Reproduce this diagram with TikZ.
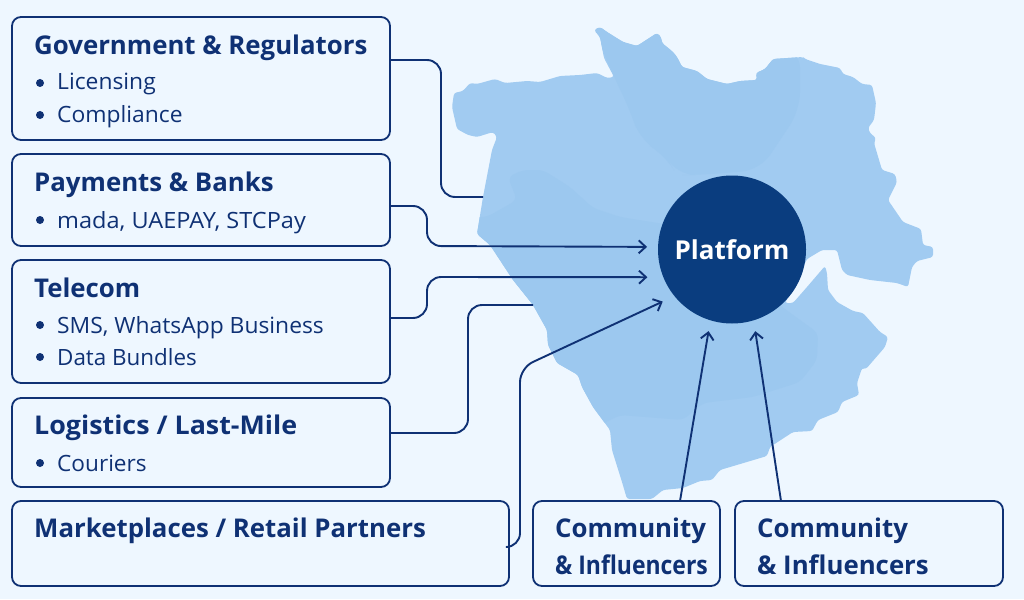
\documentclass[tikz,border=0pt]{standalone}
\usepackage{fontspec}
\setmainfont{Open Sans}
\usetikzlibrary{arrows.meta}
\definecolor{pagebg}{HTML}{EEF7FF}
\definecolor{maplight}{HTML}{A1CBF1}
\definecolor{mapdark}{HTML}{9CC8EF}
\definecolor{navy}{HTML}{0F3174}
\definecolor{platformblue}{HTML}{0A3D7F}
\tikzset{
  card/.style={draw=navy,line width=1.8pt,rounded corners=9pt,fill=pagebg,anchor=north west,inner sep=0pt,outer sep=0pt},
  heading/.style={anchor=base west,inner sep=0pt,text=navy,font=\fontsize{25.8}{26}\selectfont\bfseries},
  entry/.style={anchor=base west,inner sep=0pt,text=navy,font=\fontsize{22.4}{23}\selectfont},
  dot/.style={circle,fill=navy,minimum size=8pt,inner sep=0pt},
  link/.style={draw=navy,line width=1.9pt,rounded corners=14pt},
  linkarrow/.style={link,-{Straight Barb[length=7pt,width=13pt,line width=1.9pt]}},
}
\newcommand{\maplines}{(594,30) -- (600,27) -- (607,32) -- (623,42) -- (637,46) -- (657,33) -- (661,37) -- (662,43) -- (673,52) -- (677,57) -- (682,67) -- (697,71) -- (707,79) -- (727,84) -- (740,81) -- (757,80) -- (756,73) -- (765,69) -- (773,59) -- (788,58) -- (803,57) -- (805,59) -- (820,64) -- (840,68) -- (843,74) -- (853,77) -- (862,84) -- (872,85) -- (876,103) -- (874,120) -- (868,128) -- (870,133) -- (876,138) -- (874,143) -- (882,170) -- (895,174) -- (897,182) -- (888,200) -- (903,222) -- (921,229) -- (923,245) -- (933,247) -- (933,257) -- (917,261) -- (912,267) -- (908,287) -- (897,283) -- (870,280) -- (847,275) -- (842,270) -- (837,250) -- (822,250) -- (807,259) -- (785,303) -- (793,303) -- (807,287) -- (825,266) -- (827,273) -- (828,290) -- (837,302) -- (853,311) -- (863,313) -- (880,332) -- (888,337) -- (885,347) -- (872,362) -- (866,369) -- (862,368) -- (857,383) -- (859,395) -- (842,402) -- (838,412) -- (818,420) -- (812,431) -- (793,432) -- (770,447) -- (767,456) -- (720,470) -- (712,480) -- (700,481) -- (683,488) -- (663,490) -- (652,499) -- (627,499) -- (622,482) -- (612,450) -- (610,430) -- (593,407) -- (582,387) -- (578,375) -- (557,363) -- (548,345) -- (547,330) -- (533,305) -- (513,280) -- (490,245) -- (477,234) -- (483,197) -- (492,150) -- (497,137) -- (493,132) -- (477,137) -- (468,135) -- (457,129) -- (452,107) -- (454,93) -- (463,91) -- (470,83) -- (477,84) -- (495,79) -- (505,83) -- (527,81) -- (540,82) -- (560,76) -- (580,75) -- (597,73) -- (607,78) -- (614,77) -- (604,58) -- (600,37) -- cycle}
\begin{document}
\begin{tikzpicture}[x=1pt,y=-1pt]
  \fill[pagebg] (0,0) rectangle (1024,599);
  \useasboundingbox (0,0) rectangle (1024,599);
  % map
  \fill[maplight,rounded corners=2.5pt] \maplines;
  \begin{scope}
    \clip[rounded corners=2.5pt] \maplines;
    \fill[mapdark,rounded corners=18pt] (590,20) -- (800,50) -- (800,110) -- (760,170) -- (700,175) -- (677,175) -- (665,155) -- (640,140) -- (630,110) -- (614,77) -- cycle;
    \fill[mapdark,rounded corners=6pt] (470,217) -- (487,217) -- (517,200) -- (508,177) -- (523,170) -- (543,170) -- (570,187) -- (593,208) -- (620,217) -- (670,225) -- (800,320) -- (818,333) -- (817,360) -- (800,382) -- (753,397) -- (703,403) -- (683,420) -- (620,415) -- (600,425) -- (470,300) -- cycle;
  \end{scope}
  % cards
  \node[card,minimum width=378pt,minimum height=123pt] (gov) at (12,17) {};
  \node[card,minimum width=378pt,minimum height=92pt] (pay) at (12,154) {};
  \node[card,minimum width=378pt,minimum height=123pt] (telecom) at (12,260) {};
  \node[card,minimum width=378pt,minimum height=89pt] (logistics) at (12,398) {};
  \node[card,minimum width=497pt,minimum height=85pt] (market) at (12,501) {};
  \node[card,minimum width=187pt,minimum height=85pt] (communityA) at (533,501) {};
  \node[card,minimum width=268pt,minimum height=85pt] (communityB) at (735,501) {};
  % platform
  \node[circle,fill=platformblue,minimum size=148pt,inner sep=0pt,outer sep=0pt,text=white,font=\fontsize{26}{26}\selectfont\bfseries] (platform) at (732,249.5) {Platform};
  % texts
  \node[heading] (govtitle) at (34,55) {Government \& Regulators};
  \node[dot] (govdotA) at (40,83) {};
  \node[entry,xscale=1.02,transform shape] (govA) at (57,90) {Licensing};
  \node[dot] (govdotB) at (40,115) {};
  \node[entry,xscale=1.02,transform shape] (govB) at (57,122) {Compliance};
  \node[heading] (paytitle) at (34,191) {Payments \& Banks};
  \node[dot] (paydot) at (40,220) {};
  \node[entry,xscale=1.05,transform shape] (payA) at (57,228) {mada, UAEPAY, STCPay};
  \node[heading] (telecomtitle) at (34,297) {Telecom};
  \node[dot] (telecomdotA) at (40,325) {};
  \node[entry,xscale=1.02,transform shape] (telecomA) at (57,333) {SMS, WhatsApp Business};
  \node[dot] (telecomdotB) at (40,357) {};
  \node[entry] (telecomB) at (57,365) {Data Bundles};
  \node[heading,xscale=1.04,transform shape] (logisticstitle) at (34,434) {Logistics / Last-Mile};
  \node[dot] (logisticsdot) at (40,463) {};
  \node[entry,xscale=1.01,transform shape] (logisticsA) at (57,471) {Couriers};
  \node[heading] (markettitle) at (34,537) {Marketplaces / Retail Partners};
  \node[heading] (communityAtop) at (555,537) {Community};
  \node[heading,xscale=.89,transform shape] (communityAbot) at (555,574) {\&~Influencers};
  \node[heading] (communityBtop) at (757,537) {Community};
  \node[heading] (communityBbot) at (757,574) {\&~Influencers};
  % connectors
  \coordinate (govend) at (483,197);
  \coordinate (logisticsend) at (533,305);
  \draw[link] (gov.east |- 0,60) -- (441,60) -- (441,197) -- (govend);  % gov -- map
  \draw[linkarrow,shorten >=11pt] (pay.east |- 0,206) -- (427,206) -- (427,246) -- (platform.178);  % pay -- platform
  \draw[linkarrow,shorten >=16pt] (telecom.east |- 0,318) -- (427,318) -- (427,277) -- (platform.202);  % telecom -- platform
  \draw[link] (logistics.east |- 0,433) -- (468,433) -- (468,305) -- (logisticsend);  % logistics -- map
  \draw[linkarrow,shorten >=13pt] (market.east |- 0,547) -- (520,547) -- (520,368) -- (platform.219);  % market -- platform
  \draw[linkarrow,shorten >=11pt] (communityA.north west -| 680,0) -- (platform.253);  % communityA -- platform
  \draw[linkarrow,shorten >=11pt] (communityB.north west -| 781,0) -- (platform.287);  % communityB -- platform
\end{tikzpicture}
\end{document}
